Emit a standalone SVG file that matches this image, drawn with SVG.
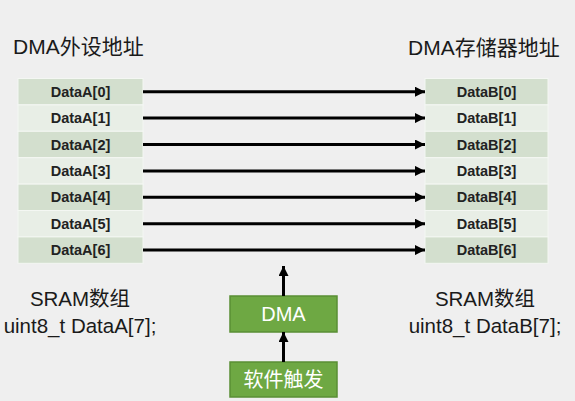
<svg xmlns="http://www.w3.org/2000/svg" width="575" height="401" viewBox="0 0 575 401">
<defs>
<style>
.title{font-family:"Liberation Sans","Noto Sans CJK SC",sans-serif;font-size:21px;fill:#1a1a1a}
.cell{font-family:"Liberation Sans","Noto Sans CJK SC",sans-serif;font-size:14.5px;font-weight:bold;fill:#222;text-anchor:middle}
.dark{fill:#d3dfce;stroke:#f4f7f3;stroke-width:1}
.light{fill:#e8eee6;stroke:#f4f7f3;stroke-width:1}
.cap{font-family:"Liberation Sans","Noto Sans CJK SC",sans-serif;font-size:20.5px;fill:#1a1a1a;text-anchor:middle}
.gbox{fill:#6ea843;stroke:#5a8f34;stroke-width:1.5}
.gtxt{font-family:"Liberation Sans","Noto Sans CJK SC",sans-serif;font-size:20px;fill:#ffffff;text-anchor:middle}
.conn line{stroke:#000;stroke-width:3;marker-end:url(#ah)}
</style>
<marker id="ah" viewBox="0 0 10 10" refX="10" refY="5" markerUnits="userSpaceOnUse" markerWidth="11" markerHeight="10" orient="auto">
<path d="M0,0 L10,5 L0,10 z" fill="#000"/>
</marker>
</defs>
<rect width="575" height="401" fill="#efefef"/>
<text class="title" x="13" y="54">DMA外设地址</text>
<text class="title" x="408" y="55">DMA存储器地址</text>
<g id="tableA">
<rect class="dark" x="18" y="78.5" width="125" height="26.4"/>
<rect class="light" x="18" y="104.9" width="125" height="26.4"/>
<rect class="dark" x="18" y="131.3" width="125" height="26.4"/>
<rect class="light" x="18" y="157.7" width="125" height="26.4"/>
<rect class="dark" x="18" y="184.1" width="125" height="26.4"/>
<rect class="light" x="18" y="210.5" width="125" height="26.4"/>
<rect class="dark" x="18" y="236.9" width="125" height="26.4"/>
<text class="cell" x="80.5" y="96.8">DataA[0]</text>
<text class="cell" x="80.5" y="123.2">DataA[1]</text>
<text class="cell" x="80.5" y="149.6">DataA[2]</text>
<text class="cell" x="80.5" y="176">DataA[3]</text>
<text class="cell" x="80.5" y="202.4">DataA[4]</text>
<text class="cell" x="80.5" y="228.8">DataA[5]</text>
<text class="cell" x="80.5" y="255.2">DataA[6]</text>
</g>
<g id="tableB">
<rect class="dark" x="425" y="78.5" width="123" height="26.4"/>
<rect class="light" x="425" y="104.9" width="123" height="26.4"/>
<rect class="dark" x="425" y="131.3" width="123" height="26.4"/>
<rect class="light" x="425" y="157.7" width="123" height="26.4"/>
<rect class="dark" x="425" y="184.1" width="123" height="26.4"/>
<rect class="light" x="425" y="210.5" width="123" height="26.4"/>
<rect class="dark" x="425" y="236.9" width="123" height="26.4"/>
<text class="cell" x="486.5" y="96.8">DataB[0]</text>
<text class="cell" x="486.5" y="123.2">DataB[1]</text>
<text class="cell" x="486.5" y="149.6">DataB[2]</text>
<text class="cell" x="486.5" y="176">DataB[3]</text>
<text class="cell" x="486.5" y="202.4">DataB[4]</text>
<text class="cell" x="486.5" y="228.8">DataB[5]</text>
<text class="cell" x="486.5" y="255.2">DataB[6]</text>
</g>
<g id="labelA">
<text class="cap" x="80" y="306">SRAM数组</text>
<text class="cap" x="80" y="333">uint8_t DataA[7];</text>
</g>
<g id="labelB">
<text class="cap" x="485" y="306">SRAM数组</text>
<text class="cap" x="485" y="333">uint8_t DataB[7];</text>
</g>
<g id="dma">
<rect class="gbox" x="230" y="296" width="107" height="36"/>
<text class="gtxt" x="283.5" y="321">DMA</text>
</g>
<g id="trigger">
<rect class="gbox" x="230" y="362" width="107" height="35"/>
<text class="gtxt" x="283.5" y="387">软件触发</text>
</g>
<g class="conn" id="connectors">
<line x1="143" y1="91.7" x2="425" y2="91.7"/>
<line x1="143" y1="118.1" x2="425" y2="118.1"/>
<line x1="143" y1="144.5" x2="425" y2="144.5"/>
<line x1="143" y1="170.9" x2="425" y2="170.9"/>
<line x1="143" y1="197.3" x2="425" y2="197.3"/>
<line x1="143" y1="223.7" x2="425" y2="223.7"/>
<line x1="143" y1="250.1" x2="425" y2="250.1"/>
<line x1="283.5" y1="296" x2="283.5" y2="266"/>
<line x1="283.5" y1="362" x2="283.5" y2="332"/>
</g>
</svg>
